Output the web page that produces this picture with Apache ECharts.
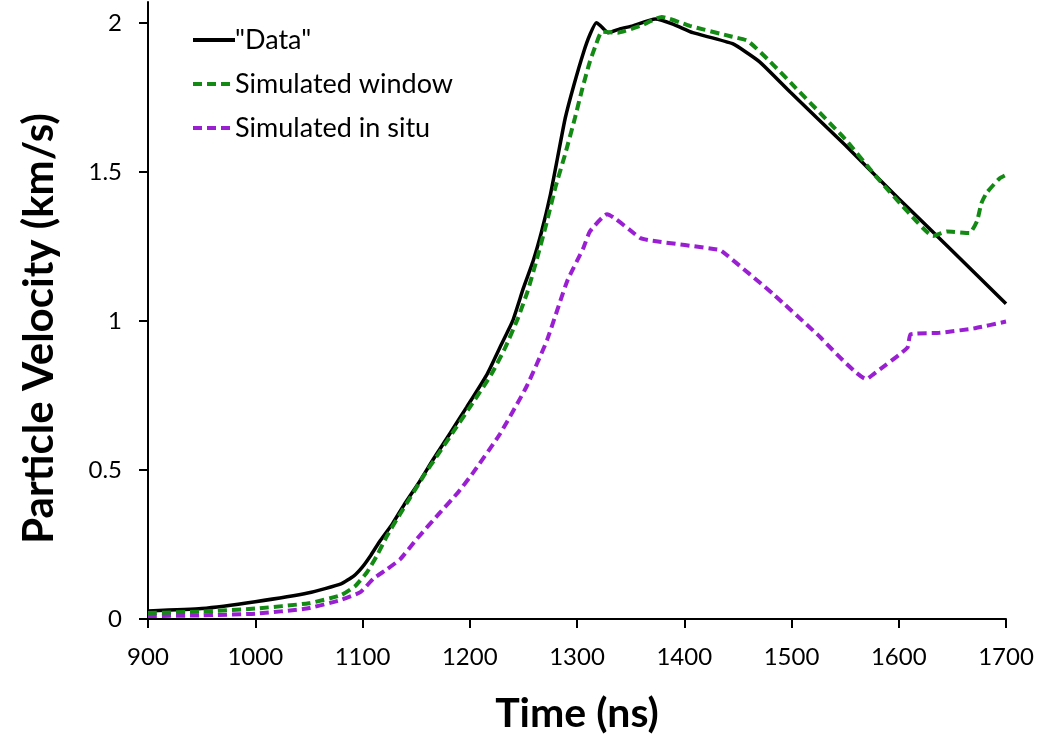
<!DOCTYPE html>
<html>
<head>
<meta charset="utf-8">
<script src="https://cdn.jsdelivr.net/npm/echarts@6/dist/echarts.min.js"></script>
<style>
html,body{margin:0;padding:0;background:#fff;}
#chart{width:1048px;height:739px;}
</style>
</head>
<body>
<div id="chart"></div>
<script>
// Series data: time (ns) and particle velocity (km/s)
const dataT = [900,950,1000,1050,1080,1092,1100,1108,1116,1128,1140,1153,1166,1182,1197,1216,1228,1240,1250,1259,1267,1275,1282,1289,1297,1306,1312,1318,1322,1329,1340,1352,1373,1390,1408,1445,1470,1499,1550,1600,1650,1700];
const dataV = [0.027,0.035,0.058,0.088,0.118,0.145,0.175,0.215,0.26,0.32,0.39,0.46,0.536,0.625,0.71,0.82,0.91,1.0,1.11,1.2,1.30,1.42,1.55,1.68,1.79,1.90,1.96,2.0,1.99,1.967,1.98,1.99,2.013,1.995,1.967,1.93,1.87,1.767,1.59,1.41,1.235,1.058];

const windowT = [900,950,1000,1050,1080,1093,1104,1113,1123,1133,1145,1157,1170,1185,1200,1220,1233,1245,1254,1262,1271,1280,1289,1298,1305,1312,1318,1323,1338,1359,1379,1405,1443,1459,1480,1499,1550,1580,1610,1632,1645,1666,1673,1677,1682,1694,1700];
const windowV = [0.02,0.025,0.035,0.053,0.08,0.11,0.156,0.21,0.28,0.34,0.41,0.48,0.55,0.63,0.71,0.82,0.91,1.01,1.1,1.2,1.32,1.45,1.56,1.68,1.78,1.87,1.93,1.97,1.967,1.99,2.02,1.99,1.955,1.94,1.87,1.80,1.61,1.48,1.36,1.285,1.30,1.295,1.335,1.394,1.43,1.478,1.49];

const insituT = [900,950,1000,1048,1079,1098,1110,1122,1135,1151,1172,1188,1203,1228,1253,1272,1291,1306,1312,1328,1359,1368,1433,1440,1483,1524,1570,1576,1608,1611,1638,1670,1700];
const insituV = [0.01,0.012,0.018,0.035,0.063,0.09,0.135,0.165,0.2,0.27,0.356,0.42,0.49,0.62,0.78,0.935,1.135,1.245,1.30,1.358,1.278,1.27,1.238,1.22,1.09,0.955,0.805,0.82,0.91,0.955,0.96,0.975,0.998];

const seriesNames = ['"Data"', 'Simulated window', 'Simulated in situ'];
const xTicks = [900,1000,1100,1200,1300,1400,1500,1600,1700];
const yTicks = [0,0.5,1,1.5,2];

function pairs(t, v){ return t.map((x,i)=>[x, v[i]]); }

const chart = echarts.init(document.getElementById('chart'), null, {renderer:'canvas'});
const FONT = 'Lato';
chart.setOption({
  animation:false,
  backgroundColor:'#ffffff',
  grid:{left:148, right:42, top:2, bottom:115, containLabel:false},
  legend:{
    orient:'vertical', left:186, top:20,
    itemWidth:42, itemHeight:14, itemGap:14,
    itemStyle:{opacity:0},
    lineStyle:{width:4},
    textStyle:{fontFamily:FONT, fontSize:27, color:'#000', lineHeight:30, padding:[0,0,0,-5]},
    data:seriesNames
  },
  xAxis:{
    type:'value', min:900, max:1700, interval:100,
    name:'Time (ns)', nameLocation:'middle', nameGap:74,
    nameTextStyle:{fontFamily:FONT, fontSize:41, fontWeight:'bold', color:'#000'},
    axisLine:{show:true, onZero:false, lineStyle:{color:'#000', width:2}},
    axisTick:{show:true, inside:false, length:9, lineStyle:{color:'#000', width:2}, customValues:xTicks},
    axisLabel:{fontFamily:FONT, fontSize:24, color:'#000', margin:26, customValues:xTicks,
      formatter:v=>String(v)},
    splitLine:{show:false}
  },
  yAxis:{
    type:'value', min:0, max:2.07,
    name:'Particle Velocity (km/s)', nameLocation:'middle', nameGap:88, nameRotate:90,
    nameTextStyle:{fontFamily:FONT, fontSize:42, fontWeight:'bold', color:'#000', padding:[0,36,0,0]},
    axisLine:{show:true, onZero:false, lineStyle:{color:'#000', width:2}},
    axisTick:{show:true, length:9, lineStyle:{color:'#000', width:2}, customValues:yTicks},
    axisLabel:{fontFamily:FONT, fontSize:24, color:'#000', margin:26, customValues:yTicks,
      formatter:v=>String(v)},
    splitLine:{show:false}
  },
  series:[
    {name:seriesNames[0], type:'line', data:pairs(dataT,dataV), symbol:'none', smooth:0.15,
     lineStyle:{color:'#000000', width:3.5}, itemStyle:{color:'#000000'}, z:3},
    {name:seriesNames[1], type:'line', data:pairs(windowT,windowV), symbol:'none', smooth:0.15,
     lineStyle:{color:'#138a13', width:4, type:[9,5]}, itemStyle:{color:'#138a13'}, z:4},
    {name:seriesNames[2], type:'line', data:pairs(insituT,insituV), symbol:'none', smooth:0.15,
     lineStyle:{color:'#9a1fd2', width:4, type:[9,5]}, itemStyle:{color:'#9a1fd2'}, z:2}
  ]
});
</script>
</body>
</html>
